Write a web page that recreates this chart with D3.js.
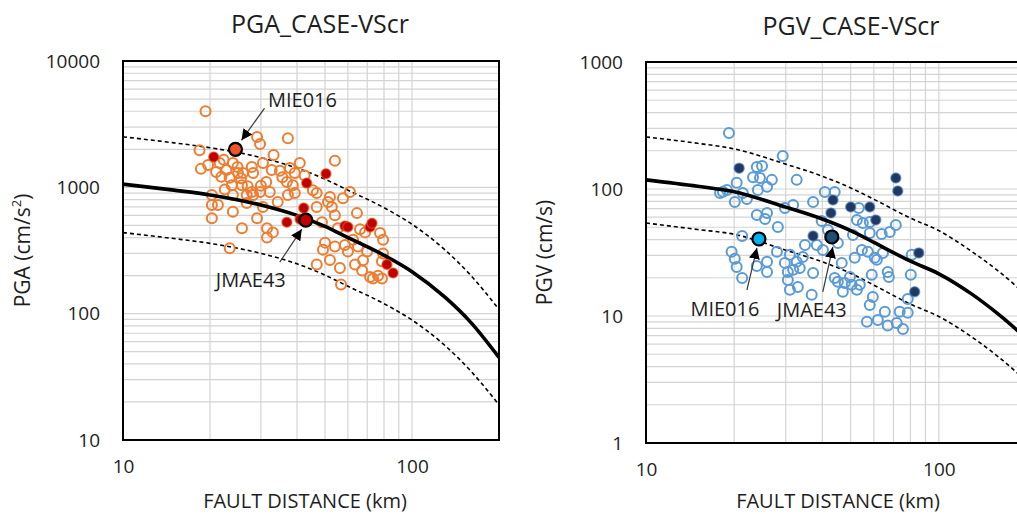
<!DOCTYPE html>
<html>
<head>
<meta charset="utf-8">
<script src="https://cdn.jsdelivr.net/npm/d3@7"></script>
<style>
  html, body { margin: 0; padding: 0; background: #fff; }
  text { font-family: "Open Sans", "Noto Sans", sans-serif; fill: #1e1e1e; }
</style>
</head>
<body>
<div id="chart"></div>
<script>
/* DATA */
// distances where the curves were read
const curveDist = [10, 15, 20, 30, 40, 50, 60, 80, 100, 130, 160, 200];

// PGA (cm/s2) curves
const pgaMedian = [1060, 950, 870, 725, 600, 490, 400, 290, 215, 135, 85, 45];
const pgaUpper  = [2510, 2250, 2060, 1720, 1420, 1160, 950, 690, 510, 320, 200, 108];
const pgaLower  = [438, 393, 360, 300, 248, 202, 165, 120, 89, 56, 35, 19];

// PGV (cm/s) curves
const pgvMedian = [118, 105, 95, 72, 58, 47, 38, 27, 21.5, 14.8, 10.3, 6.6];
const pgvUpper  = [257, 229, 207, 157, 126, 102, 83, 59, 47, 32, 22.5, 14.4];
const pgvLower  = [54, 48, 44, 33, 26.7, 21.7, 17.5, 12.4, 9.9, 6.8, 4.75, 3.04];

// PGA observations [distance km, value]
const pgaOpen = [
  [19.3, 4000], [29.1, 2500], [29.8, 2200], [18.4, 1970], [19.7, 1500], [18.6, 1400],
  [21.6, 1560], [22.8, 1370], [24.0, 1560], [24.9, 1450], [26.0, 1300], [23.4, 1190],
  [21.9, 1210], [27.9, 1450], [28.2, 1300], [30.5, 1560], [33.2, 1800], [32.7, 1370],
  [34.9, 1350], [31.3, 1100], [29.8, 920], [32.2, 920], [28.2, 870], [26.8, 870],
  [25.8, 1040], [23.8, 1040], [24.0, 870], [20.3, 870], [20.3, 725], [21.3, 725],
  [20.3, 570], [24.0, 640], [25.8, 475], [29.1, 570], [31.5, 475], [33.0, 440],
  [31.5, 400], [23.4, 330], [34.3, 765], [30.5, 700], [26.8, 750], [27.9, 920],
  [54.1, 1620], [40.9, 1560], [37.8, 1420], [36.9, 1100], [39.3, 1300], [38.7, 1040],
  [45.4, 950], [46.8, 900], [52.0, 840], [57.7, 820], [61.0, 920], [51.2, 765],
  [52.8, 700], [37.2, 870], [39.3, 900], [46.8, 700], [48.8, 530], [54.1, 600],
  [64.5, 625], [55.4, 475], [66.1, 465], [68.8, 440], [77.5, 435], [79.4, 385],
  [62.5, 385], [50.0, 365], [54.1, 340], [58.6, 350], [60.0, 310], [65.0, 340],
  [69.9, 310], [49.2, 320], [52.0, 266], [46.8, 245], [56.3, 230], [63.5, 245],
  [67.2, 220], [71.6, 195], [76.3, 200], [79.4, 300], [56.8, 170], [78.7, 260],
  [37.2, 2450], [73.3, 190], [78.7, 190], [67.7, 265],
  [22.3, 1650], [25.6, 1180], [27.0, 1020], [22.5, 960], [35.6, 1200], [42.5, 1240],
  [25.0, 1300], [30.0, 1030], [21.0, 1320]
];
const pgaFilled = [
  [20.6, 1740], [50.4, 1280], [43.2, 1080], [42.2, 685], [36.9, 530], [41.0, 560],
  [58.6, 495], [60.0, 485], [71.6, 485], [72.7, 520], [81.9, 245], [86.0, 210]
];
const pgaStations = ["MIE016", "JMAE43"];
const pgaStationDist = [24.5, 42.9];
const pgaStationValue = [2000, 550];

// PGV observations [distance km, value]
const pgvOpen = [
  [19.2, 276], [29.3, 182], [23.9, 149], [23.2, 124], [24.9, 152], [24.5, 122],
  [26.9, 118], [25.9, 104], [24.1, 98], [20.4, 112], [18.3, 95], [18.9, 98],
  [21.4, 93], [20.1, 79], [22.1, 83.5], [23.9, 62.5], [25.9, 64.8], [25.5, 58.1],
  [28.2, 50.2], [29.8, 71.0], [31.8, 74.9], [32.7, 118], [21.3, 42.7], [19.6, 32.0],
  [20.1, 28.2], [20.4, 24.3], [21.3, 19.9], [23.9, 24.8], [25.9, 26.7], [25.9, 22.2],
  [28.0, 32.0], [29.8, 26.2], [30.5, 22.2], [30.5, 19.2], [31.0, 16.1], [33.0, 16.9],
  [33.5, 23.9], [34.3, 29.2], [37.2, 21.8], [36.8, 14.7], [37.2, 79.1], [40.8, 94.8],
  [44.1, 94.8], [53.3, 71.0], [52.5, 57.1], [55.0, 54.0], [58.1, 55.0], [71.3, 52.1],
  [68.0, 45.9], [63.8, 44.3], [58.1, 45.1], [39.8, 56.0], [41.8, 47.6], [45.2, 37.6],
  [34.9, 36.3], [38.3, 36.3], [40.2, 33.1], [50.9, 43.5], [54.6, 33.1], [57.2, 32.0],
  [60.4, 28.7], [64.4, 31.4], [51.6, 28.7], [46.6, 26.2], [31.0, 30.3], [32.7, 26.7],
  [31.8, 23.1], [44.1, 19.9], [47.7, 18.2], [47.0, 15.5], [50.4, 17.6], [53.7, 17.6],
  [59.0, 21.1], [66.9, 22.2], [67.5, 20.3], [80.2, 21.1], [59.5, 14.1], [58.1, 12.2],
  [65.4, 10.8], [56.8, 9.0], [61.9, 9.3], [66.9, 8.4], [71.8, 8.8], [75.4, 7.9],
  [78.3, 10.6], [78.3, 13.6], [80.8, 30.3], [61.4, 27.7], [49.7, 20.3], [52.5, 16.1],
  [45.2, 18.6], [17.9, 93], [73.5, 10.8]
];
const pgvFilled = [
  [20.8, 146], [43.5, 82], [42.8, 64.8], [50.0, 72.2], [58.1, 72.2], [60.9, 57.1],
  [37.2, 42.7], [82.7, 15.5], [71.3, 122], [72.4, 96.5], [85.4, 31.4]
];
const pgvStations = ["MIE016", "JMAE43"];
const pgvStationDist = [24.3, 43.1];
const pgvStationValue = [40.4, 41.9];

const xTicks = [10, 100];
const pgaTicks = [10, 100, 1000, 10000];
const pgvTicks = [1, 10, 100, 1000];

/* CONSTANTS */
const width = 1017, height = 514;

const svg = d3.select("#chart").append("svg")
  .attr("width", width)
  .attr("height", height);

svg.append("rect").attr("width", width).attr("height", height).attr("fill", "#fff");

const defs = svg.append("defs");
defs.append("marker")
  .attr("id", "arrow")
  .attr("viewBox", "0 0 10 10")
  .attr("refX", 10).attr("refY", 5)
  .attr("markerWidth", 11).attr("markerHeight", 11)
  .attr("markerUnits", "userSpaceOnUse")
  .attr("orient", "auto")
  .append("path")
  .attr("d", "M0,0 L10,5 L0,10 z")
  .attr("fill", "#000");

const panels = [
  {
    id: "pga", title: "PGA_CASE-VScr",
    left: 123, right: 499, top: 61, bottom: 440, titleX: 320, titleY: 33,
    yDomain: [10, 10000], yTicks: pgaTicks,
    median: pgaMedian, upper: pgaUpper, lower: pgaLower,
    open: pgaOpen, filled: pgaFilled,
    openColor: "#ED7D31", filledColor: "#C00000", filledStroke: "#E2571E",
    stations: pgaStations, stDist: pgaStationDist, stValue: pgaStationValue,
    stFill: ["#F4532A", "#C00000"],
    // label offsets in px from the marked point: [textX, textY, arrowStartX, arrowStartY, tipX, tipY]
    labelOff: [[67, -48, 29, -41, 6, -9], [-55, 62, -26, 42, -4, 9]],
    ylabel: "PGA", ylabelUnit: true, ylabelX: 30, xlabelX: 305
  },
  {
    id: "pgv", title: "PGV_CASE-VScr",
    left: 646, right: 1027, top: 62, bottom: 443, titleX: 851, titleY: 35,
    yDomain: [1, 1000], yTicks: pgvTicks,
    median: pgvMedian, upper: pgvUpper, lower: pgvLower,
    open: pgvOpen, filled: pgvFilled,
    openColor: "#5B9BD5", filledColor: "#1F3864", filledStroke: "#4A7EB8",
    stations: pgvStations, stDist: pgvStationDist, stValue: pgvStationValue,
    stFill: ["#00B0F0", "#1F4E79"],
    labelOff: [[-34, 72, -12, 51, -2, 9], [-20, 75, -9, 55, 1, 10]],
    ylabel: "PGV (cm/s)", ylabelUnit: false, ylabelX: 552, xlabelX: 838
  }
];

panels.forEach(drawPanel);

function drawPanel(p) {
  const x = d3.scaleLog().domain([10, 200]).range([p.left, p.right]);
  const y = d3.scaleLog().domain(p.yDomain).range([p.bottom, p.top]);
  const g = svg.append("g");

  defs.append("clipPath").attr("id", "clip-" + p.id)
    .append("rect")
    .attr("x", p.left).attr("y", p.top)
    .attr("width", p.right - p.left).attr("height", p.bottom - p.top);

  // grid
  g.append("g").selectAll("line.h")
    .data(y.ticks())
    .join("line")
    .attr("x1", p.left).attr("x2", p.right)
    .attr("y1", d => y(d)).attr("y2", d => y(d))
    .attr("stroke", "#D4D4D4").attr("stroke-width", 1.2);
  g.append("g").selectAll("line.v")
    .data(x.ticks())
    .join("line")
    .attr("x1", d => x(d)).attr("x2", d => x(d))
    .attr("y1", p.top).attr("y2", p.bottom)
    .attr("stroke", "#D4D4D4").attr("stroke-width", 1.2);

  // axes labels (decades only)
  const xAxis = g.append("g")
    .attr("transform", `translate(0,${p.bottom + 16})`)
    .call(d3.axisBottom(x).tickValues(xTicks).tickFormat(d3.format("d")).tickSize(0));
  xAxis.select(".domain").remove();
  xAxis.selectAll("text").attr("font-size", 19).attr("fill", "#1e1e1e")
    .style("font-family", '"Open Sans", sans-serif');

  const yAxis = g.append("g")
    .attr("transform", `translate(${p.left - 20},0)`)
    .call(d3.axisLeft(y).tickValues(p.yTicks).tickFormat(d3.format("d")).tickSize(0));
  yAxis.select(".domain").remove();
  yAxis.selectAll("text").attr("font-size", 19).attr("fill", "#1e1e1e")
    .style("font-family", '"Open Sans", sans-serif');

  // curves
  const plot = g.append("g").attr("clip-path", `url(#clip-${p.id})`);
  const line = vals => d3.line()
    .x((d, i) => x(curveDist[i]))
    .y(d => y(d))
    .curve(d3.curveMonotoneX)(vals);

  plot.append("path").attr("d", line(p.upper))
    .attr("fill", "none").attr("stroke", "#000").attr("stroke-width", 1.6)
    .attr("stroke-dasharray", "4,3");
  plot.append("path").attr("d", line(p.lower))
    .attr("fill", "none").attr("stroke", "#000").attr("stroke-width", 1.6)
    .attr("stroke-dasharray", "4,3");

  // open points
  plot.append("g").selectAll("circle")
    .data(p.open)
    .join("circle")
    .attr("cx", d => x(d[0])).attr("cy", d => y(d[1]))
    .attr("r", 5)
    .attr("fill", "none")
    .attr("stroke", p.openColor).attr("stroke-width", 2);

  plot.append("path").attr("d", line(p.median))
    .attr("fill", "none").attr("stroke", "#000").attr("stroke-width", 3.6);

  // filled points
  plot.append("g").selectAll("circle")
    .data(p.filled)
    .join("circle")
    .attr("cx", d => x(d[0])).attr("cy", d => y(d[1]))
    .attr("r", 5)
    .attr("fill", p.filledColor)
    .attr("stroke", p.filledStroke).attr("stroke-width", 1.5).attr("stroke-opacity", 0.6);

  // marked stations
  p.stations.forEach((name, i) => {
    const cx = x(p.stDist[i]), cy = y(p.stValue[i]);
    const o = p.labelOff[i];
    g.append("circle")
      .attr("cx", cx).attr("cy", cy).attr("r", 6.5)
      .attr("fill", p.stFill[i]).attr("stroke", "#000").attr("stroke-width", 2.2);
    g.append("line")
      .attr("x1", cx + o[2]).attr("y1", cy + o[3])
      .attr("x2", cx + o[4]).attr("y2", cy + o[5])
      .attr("stroke", "#3a3a3a").attr("stroke-width", 1.2)
      .attr("marker-end", "url(#arrow)");
    g.append("text")
      .attr("x", cx + o[0]).attr("y", cy + o[1])
      .attr("text-anchor", "middle")
      .attr("dominant-baseline", "middle")
      .attr("font-size", 20)
      .text(name);
  });

  // frame
  g.append("rect")
    .attr("x", p.left).attr("y", p.top)
    .attr("width", p.right - p.left).attr("height", p.bottom - p.top)
    .attr("fill", "none").attr("stroke", "#000").attr("stroke-width", 2);

  // titles
  g.append("text")
    .attr("x", p.titleX).attr("y", p.titleY)
    .attr("text-anchor", "middle")
    .attr("font-size", 25)
    .text(p.title);

  g.append("text")
    .attr("x", p.xlabelX)
    .attr("y", 508)
    .attr("text-anchor", "middle")
    .attr("font-size", 20)
    .text("FAULT DISTANCE (km)");

  const yl = g.append("text")
    .attr("transform", `translate(${p.ylabelX},${(p.top + p.bottom) / 2}) rotate(-90)`)
    .attr("text-anchor", "middle")
    .attr("font-size", 21);
  if (p.ylabelUnit) {
    yl.append("tspan").text("PGA (cm/s");
    yl.append("tspan").attr("baseline-shift", "super").attr("font-size", 13).text("2");
    yl.append("tspan").text(")");
  } else {
    yl.text(p.ylabel);
  }
}
</script>
</body>
</html>
